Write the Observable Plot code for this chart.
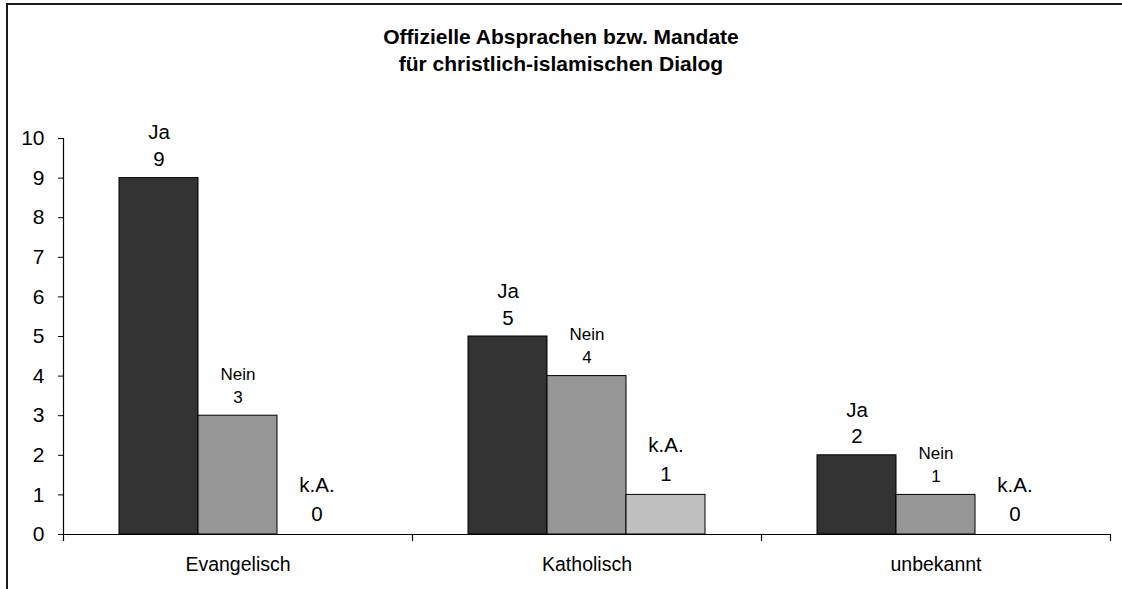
<!DOCTYPE html>
<html>
<head>
<meta charset="utf-8">
<script src="https://cdn.jsdelivr.net/npm/d3@7"></script>
<script src="https://cdn.jsdelivr.net/npm/@observablehq/plot@0.6"></script>
<style>
  html, body { margin: 0; padding: 0; background: #fff; overflow: hidden; }
  #wrap { position: relative; width: 1122px; height: 589px; overflow: hidden; font-family: "Liberation Sans", Arial, sans-serif; color: #000; }
  #topline { position: absolute; left: 6px; top: 3px; width: 1116px; height: 2px; background: #1a1a1a; }
  #leftline { position: absolute; left: 6px; top: 3px; width: 2px; height: 586px; background: #1a1a1a; }
  #title { position: absolute; left: 0; top: 23px; width: 1122px; text-align: center; font-weight: bold; font-size: 21px; line-height: 27px; }
  #chart { position: absolute; left: 0; top: 100px; }
</style>
</head>
<body>
<div id="wrap">
  <div id="topline"></div>
  <div id="leftline"></div>
  <div id="title">Offizielle Absprachen bzw. Mandate<br>für christlich-islamischen Dialog</div>
  <div id="chart"></div>
</div>
<script>
const categories = ["Evangelisch", "Katholisch", "unbekannt"];
const seriesNames = ["Ja", "Nein", "k.A."];
const jaValues = [9, 5, 2];
const neinValues = [3, 4, 1];
const kaValues = [0, 1, 0];
const yTicks = [0, 1, 2, 3, 4, 5, 6, 7, 8, 9, 10];

const seriesValues = { "Ja": jaValues, "Nein": neinValues, "k.A.": kaValues };
const colors = ["#333333", "#969696", "#c0c0c0"];
const labelStyle = {
  "Ja": { fontSize: 20.5, lineHeight: 1.3, dy: -12 },
  "Nein": { fontSize: 17, lineHeight: 1.35, dy: -13 },
  "k.A.": { fontSize: 20.5, lineHeight: 1.4, dy: -14 }
};

const rows = [];
categories.forEach((c, i) => {
  seriesNames.forEach(s => rows.push({ cat: c, series: s, value: seriesValues[s][i] }));
});

const width = 1122, height = 489;
const marginTop = 38, marginBottom = 55, marginLeft = 62, marginRight = 12;
const innerH = height - marginTop - marginBottom;

const textMarks = seriesNames.map(s => Plot.text(rows.filter(d => d.series === s), {
  fx: "cat", x: "series", y: "value",
  text: d => `${d.series}\n${d.value}`,
  lineAnchor: "bottom", dy: labelStyle[s].dy,
  fontSize: labelStyle[s].fontSize, lineHeight: labelStyle[s].lineHeight,
  fill: "#000"
}));

const chart = Plot.plot({
  width, height, marginTop, marginBottom, marginLeft, marginRight,
  style: { fontFamily: "Liberation Sans, Arial, sans-serif", color: "#000", background: "transparent" },
  fx: { domain: categories, padding: 0, axis: null },
  x: { domain: seriesNames, paddingInner: 0, paddingOuter: 0.7, axis: null },
  y: { domain: [0, 10], axis: null },
  color: { domain: seriesNames, range: colors },
  marks: [
    Plot.barY(rows, { fx: "cat", x: "series", y: "value", fill: "series", stroke: "#000", strokeWidth: 1, inset: 0 }),
    Plot.ruleY([0], { stroke: "#000", strokeWidth: 1.2 }),
    Plot.frame({ anchor: "left", facetAnchor: "left", insetBottom: -6, stroke: "#000", strokeWidth: 1.2 }),
    Plot.frame({ anchor: "right", insetTop: innerH, insetBottom: -6, stroke: "#000", strokeWidth: 1.2 }),
    Plot.axisY({ ticks: yTicks, tickSize: 5, tickPadding: 14, fontSize: 21, label: null, tickFormat: d => String(d) }),
    Plot.axisFx({ anchor: "bottom", tickSize: 0, tickPadding: 23, fontSize: 19.5, label: null }),
    ...textMarks
  ]
});
document.getElementById("chart").appendChild(chart);
</script>
</body>
</html>
